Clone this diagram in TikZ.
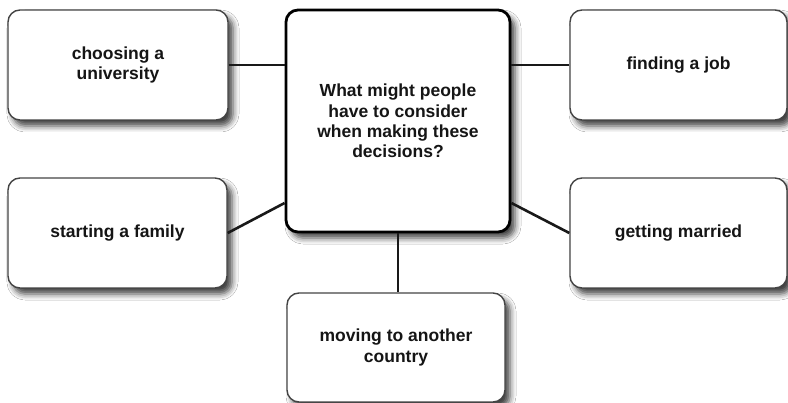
\documentclass[tikz,border=0pt]{standalone}
\usepackage{fontspec}
\setmainfont{Liberation Sans}
\usetikzlibrary{shadows.blur}
\definecolor{boxline}{HTML}{444444}
\definecolor{txt}{HTML}{151515}
\tikzset{
  topic/.style={draw=boxline, line width=1.4pt, fill=white, rounded corners=12pt,
    align=center, text=txt, font=\fontsize{17.5}{20.4}\selectfont\bfseries,
    inner sep=0pt,
    blur shadow={shadow xshift=5pt, shadow yshift=-6pt, shadow blur radius=6pt, shadow opacity=75}},
  hub/.style={topic, draw=black, line width=2.8pt},
  link/.style={draw=black!90, line width=2.6pt}
}
\begin{document}
\begin{tikzpicture}[x=1pt,y=-1pt]
\useasboundingbox (0,0) rectangle (788,403);
\fill[white] (0,0) rectangle (788,403);
\node[hub, minimum width=224pt, minimum height=222pt] (center) at (398,121)
  {What might people\\have to consider\\when making these\\decisions?};
\node[topic, minimum width=220pt, minimum height=110pt] (uni) at (118,65)
  {choosing a\\university};
\node[topic, minimum width=217pt, minimum height=110pt] (job) at (678.5,65)
  {finding a job};
\node[topic, minimum width=219pt, minimum height=110pt] (family) at (117.5,233)
  {starting a family};
\node[topic, minimum width=217pt, minimum height=110pt] (married) at (678.5,233)
  {getting married};
\node[topic, minimum width=218pt, minimum height=109pt] (move) at (396,347.5)
  {moving to another\\country};
\coordinate (cwl) at ([yshift=-82pt]center.west);
\coordinate (cel) at ([yshift=-82pt]center.east);
\draw[link] (uni.east) -- (uni.east -| center.west);
\draw[link] (job.west) -- (job.west -| center.east);
\draw[link] (family.east) -- (cwl);
\draw[link] (married.west) -- (cel);
\draw[link] (center.south) -- (center.south |- move.north);
\end{tikzpicture}
\end{document}
